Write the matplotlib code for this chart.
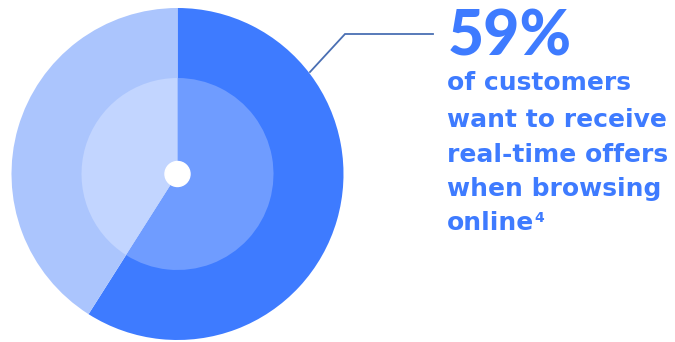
import matplotlib
matplotlib.use("Agg")
import matplotlib.pyplot as plt

# share of customers who want real-time offers
share = [59, 41]
outer_colors = ["#3e7bff", "#abc5fd"]
inner_colors = ["#6f9cff", "#c2d5ff"]

headline = "59%"
body_lines = ["of customers", "want to receive", "real-time offers", "when browsing", "online"]
footnote = "4"

W, H = 675, 342
fig = plt.figure(figsize=(W / 100, H / 100), dpi=100)
ax = fig.add_axes([0, 0, 1, 1])

cx, cy = 177.5, H - 174
ax.pie(share, colors=outer_colors, radius=166, center=(cx, cy),
       startangle=90, counterclock=False, wedgeprops=dict(linewidth=0))
ax.pie(share, colors=inner_colors, radius=96, center=(cx, cy),
       startangle=90, counterclock=False, wedgeprops=dict(linewidth=0))
ax.add_patch(plt.Circle((cx, cy), 12.5, color="white", zorder=5))

ax.set_xlim(0, W)
ax.set_ylim(0, H)
ax.set_aspect("auto")
ax.axis("off")

# leader line from the ring to the headline
ax.plot([310, 345, 433], [H - 72, H - 34, H - 34], color="#4a6fb3", lw=1.3,
        solid_joinstyle="miter", zorder=1)

blue = "#3e7bff"
ax.text(448, H - 55, headline, fontsize=45, fontweight=900, family="Lato",
        color=blue, va="baseline")
baselines = [90, 127, 162, 196, 230]
last = None
for txt, yb in zip(body_lines, baselines):
    last = ax.text(447, H - yb, txt, fontsize=18, fontweight="bold",
                   family="DejaVu Sans", color=blue, va="baseline")

fig.canvas.draw()
bb = last.get_window_extent().transformed(ax.transData.inverted())
ax.text(bb.x1, H - 230 + 8, footnote, fontsize=10, fontweight="bold",
        family="DejaVu Sans", color=blue, va="baseline")

fig.savefig("out.png", dpi=100)
